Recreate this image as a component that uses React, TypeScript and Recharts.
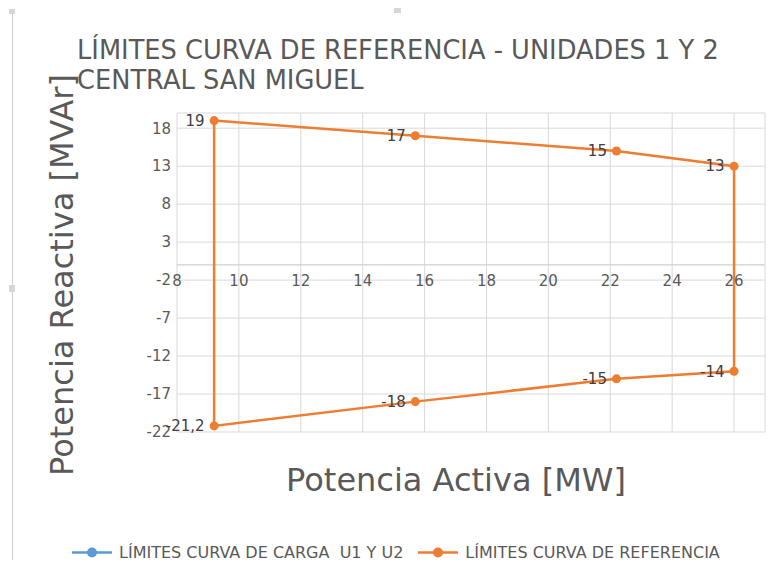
import React from "react"
import { ScatterChart, Scatter, XAxis, YAxis, ZAxis, CartesianGrid, ReferenceLine, LabelList } from "recharts"

// ─── Data ────────────────────────────────────────────────────────────────────

const P_ACTIVA = [9.2, 15.7, 22.2, 26, 26, 22.2, 15.7, 9.2]
const Q_REACTIVA = [19, 17, 15, 13, -14, -15, -18, -21.2]
const X_TICKS = [8, 10, 12, 14, 16, 18, 20, 22, 24, 26]
const Y_TICKS = [-22, -17, -12, -7, -2, 3, 8, 13, 18]

const PUNTOS = P_ACTIVA.map((x, i) => ({ x, y: Q_REACTIVA[i] }))
// the curve is a closed polygon: repeat the first point to close it
const CONTORNO = [...PUNTOS, PUNTOS[0]]
const CARGA: { x: number; y: number }[] = []

// ─── Style ───────────────────────────────────────────────────────────────────

const FONT = "'DejaVu Sans', sans-serif"
const TEXT = "#595959"
const ORANGE = "#ED7D31"
const BLUE = "#5B9BD5"
const GRID = "#d9d9d9"

const W = 773
const H = 566
const PLOT_TOP = 113
const PLOT_BOTTOM = 432
const X_DOMAIN = [8, 27]
const Y_DOMAIN = [-22, 20]
// pixel row of y = 0, where Excel draws the horizontal axis labels
const Y0_PX = PLOT_TOP + ((Y_DOMAIN[1] - 0) / (Y_DOMAIN[1] - Y_DOMAIN[0])) * (PLOT_BOTTOM - PLOT_TOP)

function XTick(props: any) {
    const { x, payload } = props
    return (
        <text x={x} y={Y0_PX + 16} textAnchor="middle" dominantBaseline="central" fill={TEXT} fontSize={15} fontFamily={FONT}>
            {payload.value}
        </text>
    )
}

function LegendItem({ color, label }: { color: string; label: string }) {
    return (
        <div style={{ display: "flex", alignItems: "center", gap: 7 }}>
            <svg width={40} height={12}>
                <line x1={0} y1={6} x2={40} y2={6} stroke={color} strokeWidth={2.5} />
                <circle cx={20} cy={6} r={5} fill={color} />
            </svg>
            <span>{label}</span>
        </div>
    )
}

export default function App() {
    return (
        <div style={{ position: "fixed", left: 0, top: 0, width: W, height: H, background: "#fff", fontFamily: FONT, color: TEXT }}>
            {/* selected chart frame */}
            <div style={{ position: "absolute", left: 12, top: 14, width: 1, height: 546, background: "#cfcfcf" }} />
            <div style={{ position: "absolute", left: 9, top: 9, width: 6, height: 5, background: "#d6d6d6" }} />
            <div style={{ position: "absolute", left: 394, top: 8, width: 7, height: 5, background: "#d6d6d6" }} />
            <div style={{ position: "absolute", left: 9, top: 285, width: 6, height: 7, background: "#d6d6d6" }} />

            <ScatterChart width={W} height={H} margin={{ top: PLOT_TOP, right: 8, bottom: 0, left: 0 }}>
                <CartesianGrid stroke={GRID} strokeWidth={1} />
                <XAxis
                    type="number"
                    dataKey="x"
                    domain={X_DOMAIN}
                    ticks={X_TICKS}
                    axisLine={false}
                    tickLine={false}
                    tick={<XTick />}
                    height={H - PLOT_BOTTOM}
                    interval={0}
                    allowDataOverflow
                />
                <YAxis
                    type="number"
                    dataKey="y"
                    domain={Y_DOMAIN}
                    ticks={Y_TICKS}
                    axisLine={false}
                    tickLine={false}
                    tickSize={0}
                    tickMargin={6}
                    width={177}
                    interval={0}
                    tick={{ fill: TEXT, fontSize: 15, fontFamily: FONT }}
                    allowDataOverflow
                />
                <ZAxis range={[90, 90]} />
                <ReferenceLine y={0} stroke="#cfcfcf" strokeWidth={1.2} />
                <Scatter data={CARGA} fill={BLUE} line={{ stroke: BLUE, strokeWidth: 2.5 }} isAnimationActive={false} />
                <Scatter
                    data={CONTORNO}
                    fill={ORANGE}
                    line={{ stroke: ORANGE, strokeWidth: 2.5 }}
                    lineType="joint"
                    shape={() => <g />}
                    isAnimationActive={false}
                />
                <Scatter data={PUNTOS} fill={ORANGE} isAnimationActive={false}>
                    <LabelList
                        dataKey="y"
                        position="left"
                        offset={5}
                        fill="#404040"
                        fontSize={15}
                        fontFamily={FONT}
                        formatter={(v: any) => String(v).replace(".", ",")}
                    />
                </Scatter>
            </ScatterChart>

            <div style={{ position: "absolute", left: 77, top: 35, fontSize: 25.7, lineHeight: "30px", whiteSpace: "nowrap" }}>
                LÍMITES CURVA DE REFERENCIA - UNIDADES 1 Y 2
                <br />
                CENTRAL SAN MIGUEL
            </div>

            <div
                style={{
                    position: "absolute",
                    left: 62,
                    top: 275,
                    fontSize: 32,
                    whiteSpace: "nowrap",
                    transform: "translate(-50%, -50%) rotate(-90deg)",
                }}
            >
                Potencia Reactiva [MVAr]
            </div>
            <div style={{ position: "absolute", left: 456, top: 480, fontSize: 32, whiteSpace: "nowrap", transform: "translate(-50%, -50%)" }}>
                Potencia Activa [MW]
            </div>

            <div
                style={{
                    position: "absolute",
                    left: 72,
                    top: 552,
                    transform: "translateY(-50%)",
                    display: "flex",
                    gap: 15,
                    fontSize: 16,
                    whiteSpace: "pre",
                }}
            >
                <LegendItem color={BLUE} label="LÍMITES CURVA DE CARGA  U1 Y U2" />
                <LegendItem color={ORANGE} label="LÍMITES CURVA DE REFERENCIA" />
            </div>
        </div>
    )
}
